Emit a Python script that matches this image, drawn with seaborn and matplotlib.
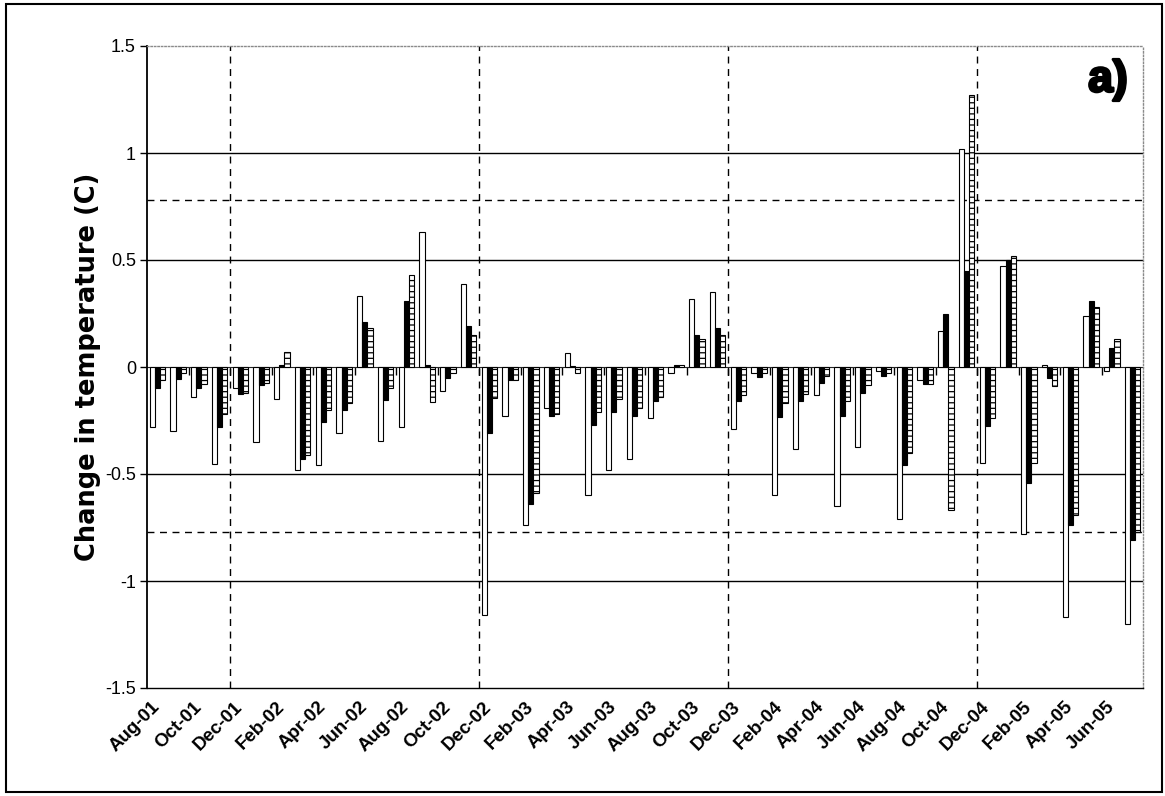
import numpy as np
import pandas as pd
import matplotlib
matplotlib.use("Agg")
import matplotlib.pyplot as plt
import matplotlib.patheffects as pe
from matplotlib.patches import Rectangle
import seaborn as sns

# ---------------- data ----------------
months = list(pd.date_range("2001-08-01", periods=48, freq="MS").strftime("%b-%y"))
series_names = ["Open", "Solid", "Hatched"]

open_vals = [-0.28, -0.30, -0.14, -0.455, -0.10, -0.35, -0.15, -0.48, -0.46, -0.31, 0.33, -0.345,
             -0.28, 0.63, -0.11, 0.39, -1.16, -0.23, -0.74, -0.19, 0.065, -0.60, -0.48, -0.43,
             -0.24, -0.03, 0.32, 0.35, -0.29, -0.03, -0.60, -0.385, -0.13, -0.65, -0.375, -0.02,
             -0.71, -0.06, 0.17, 1.02, -0.45, 0.47, -0.78, 0.01, -1.17, 0.24, -0.02, -1.20]
solid_vals = [-0.10, -0.055, -0.10, -0.28, -0.125, -0.085, 0.01, -0.43, -0.255, -0.20, 0.21, -0.155,
              0.31, 0.01, -0.05, 0.19, -0.31, -0.06, -0.64, -0.23, 0.005, -0.27, -0.21, -0.23,
              -0.16, 0.01, 0.15, 0.18, -0.16, -0.045, -0.235, -0.16, -0.075, -0.23, -0.12, -0.04,
              -0.46, -0.08, 0.25, 0.45, -0.275, 0.50, -0.54, -0.05, -0.74, 0.31, 0.09, -0.81]
hatched_vals = [-0.06, -0.03, -0.08, -0.22, -0.12, -0.075, 0.07, -0.41, -0.20, -0.17, 0.18, -0.10,
                0.43, -0.165, -0.03, 0.15, -0.145, -0.06, -0.59, -0.22, -0.03, -0.21, -0.15, -0.19,
                -0.14, 0.01, 0.13, 0.15, -0.13, -0.03, -0.17, -0.125, -0.04, -0.16, -0.085, -0.03,
                -0.40, -0.08, -0.67, 1.27, -0.24, 0.52, -0.45, -0.09, -0.69, 0.28, 0.13, -0.77]

threshold_levels = [0.78, -0.77]
year_breaks = ["Dec-01", "Dec-02", "Dec-03", "Dec-04"]
y_ticks = [-1.5, -1.0, -0.5, 0.0, 0.5, 1.0, 1.5]
y_tick_labels = ["-1.5", "-1", "-0.5", "0", "0.5", "1", "1.5"]
tick_months = months[::2]

df = pd.DataFrame({
    "month": months * 3,
    "series": sum([[s] * len(months) for s in series_names], []),
    "value": open_vals + solid_vals + hatched_vals,
})

# ---------------- style ----------------
sns.set_style("white")
plt.rcParams["font.family"] = ["Liberation Sans", "DejaVu Sans"]
plt.rcParams["hatch.linewidth"] = 0.9
for k in ("text.color", "axes.labelcolor", "xtick.color", "ytick.color"):
    plt.rcParams[k] = "black"

fig = plt.figure(figsize=(11.65, 7.96), dpi=100)
ax = fig.add_axes([147 / 1165, 1 - 688 / 796, 996 / 1165, 642 / 796])

sns.barplot(data=df, x="month", y="value", hue="series", order=months,
            hue_order=series_names, palette=["white", "black", "white"],
            edgecolor="black", linewidth=0.8, width=0.74, saturation=1,
            errorbar=None, legend=False, ax=ax, zorder=3)

for bar in ax.containers[2]:
    bar.set_hatch("---")

ymin, ymax = -1.5, 1.5
ax.set_ylim(ymin, ymax)
ax.set_xlim(-0.5, len(months) - 0.5)

# gridlines
for t in y_ticks:
    if t not in (ymin, ymax, 0.0):
        ax.axhline(t, color="black", lw=1.0, zorder=0.5)
for t in threshold_levels:
    ax.axhline(t, color="black", lw=1.0, ls=(0, (5, 4)), zorder=0.6)
for m in year_breaks:
    ax.axvline(months.index(m) - 0.5, color="black", lw=1.0, ls=(0, (5, 4)), zorder=0.6)

# zero axis with tick marks at category boundaries
zero_loc = (0 - ymin) / (ymax - ymin)
sec = ax.secondary_xaxis(zero_loc)
bpos = [i - 0.5 for i in range(2, len(months), 2)]
sec.set_xticks(bpos, labels=[""] * len(bpos))
sec.tick_params(axis="x", direction="in", length=6, width=1.0, colors="black")
sec.spines["bottom"].set_linewidth(1.3)
sec.spines["bottom"].set_color("black")

# axes spines
ax.spines["left"].set_color("black")
ax.spines["left"].set_linewidth(1.3)
ax.spines["bottom"].set_color("black")
ax.spines["bottom"].set_linewidth(1.0)
for s in ("top", "right"):
    ax.spines[s].set_visible(True)
    ax.spines[s].set_color("#8a8a8a")
    ax.spines[s].set_linestyle((0, (1, 1.5)))
    ax.spines[s].set_linewidth(1.0)

# ticks and labels
ax.set_yticks(y_ticks)
ax.set_yticklabels(y_tick_labels, fontsize=13)
ax.tick_params(axis="y", direction="out", length=5, width=1, pad=3, left=True, colors="black")

ax.set_xticks([months.index(m) for m in tick_months])
ax.set_xticklabels(tick_months, rotation=45, ha="right", va="center",
                   rotation_mode="anchor", fontsize=13.5, fontweight="bold")
ax.tick_params(axis="x", length=0, pad=12)

ax.set_xlabel("")
ax.set_ylabel("Change in temperature (C)", fontsize=18.5, fontweight="bold",
              family=["DejaVu Sans"], color="black")
ax.yaxis.set_label_coords(-0.046, 0.5)

fig.text(1108 / 1165, 1 - 80 / 796, "a)", fontsize=32, fontweight="bold",
         ha="center", va="center", color="black",
         path_effects=[pe.withStroke(linewidth=2.0, foreground="black")])

# outer frame
fig.patches.append(Rectangle((6 / 1165, 4 / 796), 1156 / 1165, 788 / 796,
                             transform=fig.transFigure, fill=False,
                             edgecolor="black", lw=1.5))

fig.savefig("out.png", dpi=100)
